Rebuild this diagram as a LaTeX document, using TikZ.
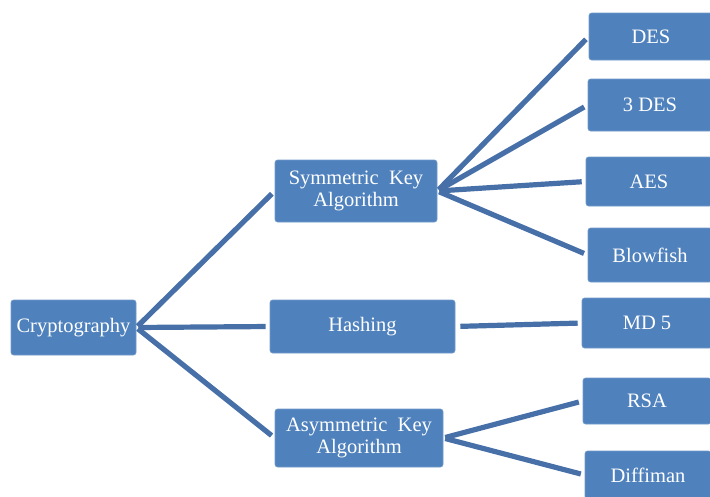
\documentclass[tikz,border=0pt]{standalone}
\usepackage{fontspec}
\setmainfont{Liberation Serif}
\definecolor{boxblue}{RGB}{79,129,189}
\definecolor{lineblue}{RGB}{72,112,168}
\begin{document}
\begin{tikzpicture}[x=1pt,y=-1pt,
  box/.style={fill=boxblue,draw=boxblue!80!white,line width=0.6pt,rounded corners=2.5pt,text=white,font=\fontsize{20.5}{21.5}\selectfont,align=center,inner sep=0pt},
  conn/.style={lineblue,line width=5.2pt,shorten >=4pt,shorten <=2pt}]
\useasboundingbox (0,0) rectangle (710,496);
\node[box,minimum width=125,minimum height=55] (crypto) at (73.5,327.5) {Cryptography};
\node[box,minimum width=162,minimum height=62] (sym) at (356,191) {Symmetric\ \ Key\\Algorithm};
\node[box,minimum width=185,minimum height=53] (hash) at (362.5,326.5) {Hashing};
\node[box,minimum width=168,minimum height=58] (asym) at (359,438) {Asymmetric\ \ Key\\Algorithm};
\node[box,minimum width=124,minimum height=47] (des) at (651,36.5) {DES};
\node[box,minimum width=124,minimum height=52] (tdes) at (650,105) {3 DES};
\node[box,minimum width=126,minimum height=49] (aes) at (649,181.5) {AES};
\node[box,minimum width=124,minimum height=54] (blow) at (650,255) {Blowfish};
\node[box,minimum width=130,minimum height=50] (md) at (647,323) {MD 5};
\node[box,minimum width=128,minimum height=46] (rsa) at (647,401) {RSA};
\node[box,minimum width=126,minimum height=48] (diff) at (648,475) {Diffiman};
\draw[conn] (crypto.east) -- (sym.west);
\draw[conn] (crypto.east) -- (hash.west);
\draw[conn] (crypto.east) -- (asym.west);
\draw[conn] (sym.east) -- (des.west);
\draw[conn] (sym.east) -- (tdes.west);
\draw[conn] (sym.east) -- (aes.west);
\draw[conn] (sym.east) -- (blow.west);
\draw[conn,shorten <=5pt] (hash.east) -- (md.west);
\draw[conn] (asym.east) -- (rsa.west);
\draw[conn] (asym.east) -- (diff.west);
\end{tikzpicture}
\end{document}
